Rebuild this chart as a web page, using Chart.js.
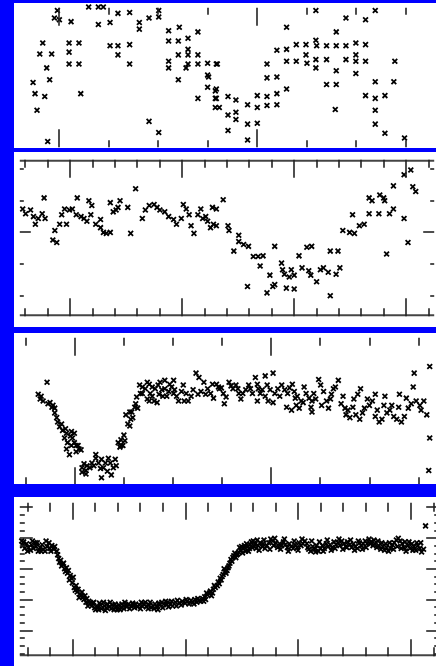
<!DOCTYPE html>
<html>
<head>
<meta charset="utf-8">
<script src="https://cdn.jsdelivr.net/npm/chart.js@4/dist/chart.umd.min.js"></script>
<style>
  html, body { margin: 0; padding: 0; }
  body { width: 436px; height: 666px; background: #0000ff; position: relative; overflow: hidden; }
  .panel { position: absolute; left: 14px; width: 422px; background: #fff; overflow: hidden; }
  .panel canvas { position: absolute; }
</style>
</head>
<body>
<div class="panel" style="top:3px;height:145px"><canvas id="lcA" width="447" height="151" style="left:0;top:-1px"></canvas></div>
<div class="panel" style="top:152px;height:175px"><canvas id="lcB" width="426" height="168" style="left:0;top:2px"></canvas></div>
<div class="panel" style="top:333px;height:151px"><canvas id="lcC" width="444" height="159" style="left:-4px;top:-1px"></canvas></div>
<div class="panel" style="top:497px;height:169px"><canvas id="lcD" width="431" height="165" style="left:0;top:0"></canvas></div>
<script>
// light curve A (top strip)
const tA = [
  -0.010, -0.025, 0.000, 0.059, 0.148, 0.197, 0.222, 0.197, 0.256, 0.296,
  0.355, 0.404, 0.404, 0.453, 0.502, 0.502, -0.084, -0.099, -0.039, -0.064,
  0.049, 0.099, 0.049, 0.049, 0.099, -0.133, -0.049, -0.123, -0.074, -0.113,
  0.108, 0.256, 0.296, 0.296, 0.355, 0.355, 0.453, 0.502, -0.059, 0.552,
  0.606, 0.552, 0.601, 0.650, 0.700, 0.552, 0.552, 0.601, 0.650, 0.650,
  0.650, 0.640, 0.700, 0.700, 0.601, 0.749, 0.798, 0.749, 0.754, 0.749,
  0.700, 0.788, 0.788, 0.788, 1.296, 1.448, 1.547, 1.596, 1.148, 1.399,
  0.793, 1.099, 1.148, 1.197, 1.246, 1.296, 1.300, 1.350, 1.399, 1.148,
  1.197, 1.246, 1.251, 1.296, 1.296, 1.350, 1.448, 1.498, 1.547, 1.448,
  1.498, 1.498, 1.547, 1.498, 1.399, 1.399, 1.350, 1.049, 1.049, 1.099,
  1.148, 0.793, 0.793, 0.808, 0.852, 0.892, 0.951, 1.000, 1.000, 1.049,
  1.049, 1.099, 1.099, 0.852, 0.892, 0.892, 0.951, 1.000, 0.852, 0.951,
  1.394, 1.596, 1.596, 1.547, 1.645, 1.596, 1.596, 1.690, 1.695, 1.645,
  1.744
];
const magA = [
  12.010, 12.037, 12.043, 12.050, 11.997, 11.997, 11.997, 12.060, 12.053, 12.020,
  12.017, 12.053, 12.077, 12.037, 12.010, 12.033, 12.127, 12.167, 12.167, 12.217,
  12.127, 12.127, 12.160, 12.203, 12.203, 12.270, 12.260, 12.310, 12.320, 12.370,
  12.310, 12.137, 12.137, 12.170, 12.133, 12.203, 12.410, 12.450, 12.483, 12.083,
  12.070, 12.120, 12.120, 12.110, 12.087, 12.193, 12.217, 12.170, 12.170, 12.150,
  12.203, 12.217, 12.170, 12.203, 12.260, 12.200, 12.203, 12.243, 12.250, 12.287,
  12.327, 12.300, 12.327, 12.360, 12.010, 12.037, 12.043, 12.010, 12.070, 12.087,
  12.203, 12.153, 12.150, 12.133, 12.133, 12.117, 12.137, 12.137, 12.137, 12.193,
  12.193, 12.170, 12.200, 12.187, 12.217, 12.187, 12.137, 12.127, 12.133, 12.187,
  12.170, 12.193, 12.193, 12.237, 12.227, 12.277, 12.277, 12.203, 12.253, 12.250,
  12.293, 12.293, 12.327, 12.360, 12.320, 12.333, 12.350, 12.317, 12.360, 12.320,
  12.353, 12.310, 12.350, 12.387, 12.377, 12.403, 12.420, 12.417, 12.443, 12.477,
  12.367, 12.267, 12.327, 12.317, 12.317, 12.370, 12.420, 12.267, 12.193, 12.453,
  12.470
];

// light curve B
const tB = [
  -0.424, -0.398, -0.354, -0.328, -0.311, -0.285, -0.250, -0.224, -0.233, -0.137,
  -0.155, -0.120, -0.094, -0.076, -0.050, -0.033, -0.007, 0.019, 0.054, 0.063,
  0.097, 0.123, 0.149, 0.167, 0.193, 0.184, 0.228, 0.271, 0.271, 0.297,
  0.323, 0.358, 0.358, 0.384, 0.410, 0.445, 0.427, 0.514, 0.540, 0.584,
  0.644, 0.671, 0.706, 0.749, 0.775, 0.801, 0.844, 0.879, 0.923, 0.949,
  0.992, 1.010, 1.036, 1.062, 1.079, 1.105, 1.140, 1.166, 1.183, 1.210,
  1.227, 1.253, 1.279, 1.270,
  1.366, 1.305, 1.305, 1.409, 1.418, 1.505, 1.505, 1.548, 1.592, 1.461,
  1.635, 1.678, 1.722, 1.826, 1.696, 1.583, 1.783, 1.826, 1.887, 1.896,
  1.913, 1.974, 1.956, 2.000, 1.930, 2.000, 1.757, 1.809, 2.043, 2.113,
  2.156, 2.070, 2.130, 2.148, 2.200, 2.234, 2.261, 2.304, 2.374, 2.408,
  2.322, 2.391, 2.322, 2.434, 2.495, 2.538, 2.582, 2.625, 2.521, 2.669,
  2.669, 2.695, 2.756, 2.764, 2.799, 2.808, 2.851, 2.886, 2.886, 2.825,
  2.981, 3.016, 2.981, 3.041, 3.059, 3.085
];
const magB = [
  12.426, 12.441, 12.429, 12.450, 12.474, 12.456, 12.441, 12.456, 12.391, 12.494,
  12.524, 12.532, 12.474, 12.444, 12.426, 12.474, 12.429, 12.426, 12.444, 12.391,
  12.450, 12.456, 12.465, 12.400, 12.415, 12.444, 12.474, 12.459, 12.485, 12.500,
  12.503, 12.500, 12.406, 12.435, 12.429, 12.400, 12.421, 12.421, 12.503, 12.362,
  12.456, 12.429, 12.415, 12.412, 12.421, 12.429, 12.435, 12.450, 12.459, 12.474,
  12.456, 12.412, 12.426, 12.444, 12.479, 12.503, 12.444, 12.426, 12.456, 12.450,
  12.465, 12.485, 12.474, 12.421,
  12.397, 12.426, 12.479, 12.479, 12.494, 12.509, 12.529, 12.538, 12.544, 12.559,
  12.576, 12.576, 12.574, 12.544, 12.606, 12.671, 12.635, 12.665, 12.597, 12.618,
  12.632, 12.618, 12.641, 12.635, 12.676, 12.679, 12.691, 12.671, 12.574, 12.547,
  12.544, 12.612, 12.621, 12.635, 12.656, 12.618, 12.612, 12.626, 12.632, 12.612,
  12.559, 12.559, 12.700, 12.494, 12.500, 12.503, 12.479, 12.474, 12.444, 12.391,
  12.441, 12.400, 12.441, 12.382, 12.391, 12.400, 12.441, 12.426, 12.353, 12.568,
  12.456, 12.532, 12.318, 12.303, 12.356, 12.371
];

// light curve C
const tC = [
  -0.141, -0.186, -0.176, -0.161, -0.136, -0.116, -0.102, -0.111, -0.092, -0.087,
  -0.077, -0.062, -0.042, -0.017, -0.002, -0.012, -0.052, -0.037, -0.017, 0.007,
  0.022, -0.042, -0.027, 0.007, 0.032, 0.037, 0.057, 0.062, 0.087, 0.107,
  0.121, 0.136, 0.156, 0.171, 0.181, 0.206, 0.196, 0.131, 0.107, 0.037,
  0.057, 0.136, 0.186, 0.221, 0.235, 0.255, 0.230, 0.245, 0.260, 0.280,
  0.285, 0.305, 0.310, 0.320, 0.280, 0.295, 0.330, 0.344, 0.334, 0.359,
  0.379, 0.394, 0.384, 0.409, 0.429, 0.404, 0.379, 0.369, 0.419, 0.434,
  0.458, 0.483, 0.503, 0.458, 0.478, 0.503, 0.443, 0.468, 0.508, 0.543,
  0.567, 0.528, 0.557, 0.577, 0.602, 0.617, 0.632, 0.657, 0.676, 0.691,
  0.706, 0.731, 0.642, 0.627, 0.721, 0.736, 0.756, 0.761, 0.785, 0.805,
  0.820, 0.835, 0.845, 0.870, 0.885, 0.904, 0.919, 0.929, 0.934, 0.929,
  0.969, 0.954, 0.969, 0.994, 1.009, 0.984, 1.009, 1.033, 1.053, 1.068,
  1.083, 1.107, 1.117, 1.132, 1.152, 1.078, 1.103, 1.127, 1.142, 1.167,
  1.177, 1.192, 1.207, 1.202, 1.207, 1.226, 1.241, 1.251, 1.266, 1.281,
  1.291, 1.306, 1.316, 1.341, 1.326, 1.355, 1.375, 1.380, 1.400, 1.415,
  1.430, 1.450, 1.454, 1.440, 1.474, 1.499, 1.514, 1.529, 1.529, 1.549,
  1.563, 1.578, 1.573, 1.588, 1.603, 1.623, 1.638, 1.648, 1.652, 1.662,
  1.677, 1.697, 1.712, 1.722, 1.737, 1.756, 1.776, 1.791, 1.727, 1.806,
  0.344, 0.369, 0.394, 0.424, 0.448, 0.493, 0.518, 0.552, 0.592, 0.666,
  0.701, 0.746, 0.770, 0.795, 0.830, 0.855, 0.894, 0.944, 0.979, 1.018,
  1.043, 1.093, 1.122, 1.162, 1.216, 1.256, 1.301, 1.365, 1.390, 1.420,
  1.464, 1.489, 1.539, 1.613, 1.687, 1.762,
  -0.171, -0.126, -0.102, -0.067, -0.047, -0.022, -0.002, 0.017, 0.047, 0.077,
  0.097, 0.146, 0.166, 0.211, 0.235, 0.250, 0.270, 0.290, 0.315, 1.806,
  1.801
];
const magC = [
  12.160, 12.203, 12.220, 12.227, 12.237, 12.250, 12.253, 12.243, 12.287, 12.303,
  12.320, 12.333, 12.343, 12.337, 12.343, 12.360, 12.360, 12.377, 12.387, 12.387,
  12.400, 12.400, 12.420, 12.410, 12.403, 12.467, 12.477, 12.460, 12.450, 12.433,
  12.450, 12.437, 12.450, 12.433, 12.450, 12.437, 12.467, 12.470, 12.420, 12.483,
  12.490, 12.503, 12.493, 12.377, 12.367, 12.370, 12.393, 12.387, 12.277, 12.267,
  12.293, 12.250, 12.237, 12.253, 12.317, 12.287, 12.170, 12.177, 12.200, 12.183,
  12.167, 12.177, 12.200, 12.183, 12.203, 12.227, 12.227, 12.220, 12.233, 12.160,
  12.153, 12.167, 12.153, 12.183, 12.193, 12.200, 12.187, 12.210, 12.187, 12.193,
  12.200, 12.227, 12.227, 12.227, 12.187, 12.127, 12.143, 12.160, 12.183, 12.200,
  12.217, 12.177, 12.193, 12.203, 12.167, 12.183, 12.200, 12.237, 12.160, 12.183,
  12.170, 12.200, 12.220, 12.187, 12.170, 12.200, 12.143, 12.167, 12.183, 12.227,
  12.137, 12.187, 12.210, 12.187, 12.127, 12.227, 12.233, 12.183, 12.170, 12.187,
  12.200, 12.167, 12.193, 12.210, 12.227, 12.250, 12.260, 12.243, 12.253, 12.177,
  12.200, 12.217, 12.227, 12.250, 12.267, 12.220, 12.150, 12.170, 12.193, 12.227,
  12.253, 12.203, 12.183, 12.153, 12.177, 12.237, 12.253, 12.277, 12.287, 12.250,
  12.277, 12.293, 12.183, 12.203, 12.253, 12.243, 12.227, 12.203, 12.283, 12.303,
  12.293, 12.210, 12.243, 12.270, 12.260, 12.283, 12.293, 12.250, 12.203, 12.303,
  12.283, 12.253, 12.237, 12.177, 12.227, 12.243, 12.227, 12.277, 12.127, 12.103,
  12.200, 12.160, 12.210, 12.170, 12.210, 12.177, 12.210, 12.170, 12.210, 12.203,
  12.167, 12.180, 12.213, 12.173, 12.183, 12.200, 12.183, 12.200, 12.170, 12.200,
  12.210, 12.180, 12.217, 12.233, 12.200, 12.243, 12.220, 12.210, 12.260, 12.220,
  12.270, 12.220, 12.260, 12.243, 12.217, 12.260,
  12.210, 12.233, 12.270, 12.310, 12.327, 12.353, 12.377, 12.387, 12.453, 12.467,
  12.460, 12.467, 12.480, 12.460, 12.387, 12.350, 12.310, 12.267, 12.213, 12.360,
  12.477
];

// light curve D (bottom strip)
const tD = [
  -0.453, -0.445, -0.427, -0.410, -0.393, -0.375, -0.367, -0.350, -0.332, -0.324,
  -0.306, -0.289, -0.272, -0.263, -0.246, -0.229, -0.211, -0.203, -0.186, -0.168,
  -0.160, -0.142, -0.134, -0.125, -0.117, -0.108, -0.099, -0.091, -0.073, -0.065,
  -0.047, -0.039, -0.022, -0.013, 0.004, 0.013, 0.022, 0.039, 0.047, 0.065,
  0.073, 0.091, 0.099, 0.117, 0.125, 0.142, 0.151, 0.168, 0.177, 0.194,
  0.203, 0.220, 0.229, 0.246, 0.255, 0.272, 0.281, 0.298, 0.306, 0.324,
  0.341, 0.350, 0.367, 0.384, 0.393, 0.410, 0.427, 0.436, 0.453, 0.470,
  0.479, 0.496, 0.514, 0.531, 0.539, 0.557, 0.574, 0.591, 0.608, 0.617,
  0.634, 0.652, 0.669, 0.678, 0.695, 0.712, 0.729, 0.747, 0.764, 0.772,
  0.790, 0.807, 0.824, 0.833, 0.850, 0.868, 0.885, 0.911, 0.928, 0.945,
  0.971, 0.997, 1.014, 1.049, 1.066, 1.083, 1.100, 1.118, 1.135, 1.152,
  1.170, 1.178, 1.195, 1.213, 1.221, 1.239, 1.247, 1.264, 1.282, 1.290,
  1.308, 1.316, 1.334, 1.351, 1.359, 1.377, 1.385, 1.403, 1.411, 1.428,
  1.446, 1.463, 1.472, 1.489, 1.506, 1.515, 1.532, 1.549, 1.567, 1.575,
  1.592, 1.601, 1.618, 1.636, 1.644, 1.662, 1.679, 1.687, 1.705, 1.722,
  1.739, 1.756, 1.774, 1.782, 1.800, 1.817, 1.834, 1.852, 1.869, 1.886,
  1.903, 1.921, 1.938, 1.955, 1.972, 1.990, 2.007, 2.024, 2.041, 2.059,
  2.076, 2.093, 2.110, 2.128, 2.145, 2.162, 2.179, 2.197, 2.214, 2.231,
  2.248, 2.266, 2.283, 2.300, 2.317, 2.335, 2.352, 2.369, 2.386, 2.404,
  2.421, 2.438, 2.456, 2.473, 2.490, 2.507, 2.525, 2.542, 2.559, 2.576,
  2.594, 2.611, 2.628, 2.645, 2.663, 2.680, 2.697, 2.714, 2.732, 2.749,
  2.766, 2.783, 2.801, 2.818, 2.835, 2.852, 2.870, 2.887, 2.904, 2.921,
  2.939, 2.956, 2.973, 2.990, 3.008, 3.025, 3.042, 3.059, 3.077, 3.094,
  3.111, 3.129,
  -0.436, -0.401, -0.358, -0.315, -0.281, -0.237, -0.194,
  -0.082, -0.056, -0.030, -0.004, 0.030, 0.056, 0.082, 0.108, 0.134,
  0.186, 0.237, 0.289, 0.332, 0.375, 0.419, 0.462, 0.505, 0.548, 0.600,
  0.643, 0.686, 0.721, 0.755, 0.798, 0.842, 0.876, 0.919, 0.962, 1.006,
  1.031, 1.075, 1.109,
  1.161, 1.187, 1.230, 1.256, 1.299, 1.325, 1.342, 1.368, 1.394, 1.420,
  1.437, 1.454, 1.480, 1.497, 1.523, 1.541, 1.558, 1.584, 1.610, 1.627,
  1.653, 1.696, 1.748, 1.791, 1.843, 1.877, 1.912, 1.964, 1.998, 2.033,
  2.084, 2.119, 2.153, 2.188, 2.222, 2.257, 2.292, 2.326, 2.361, 2.395,
  2.430, 2.464, 2.499, 2.533, 2.568, 2.602, 2.637, 2.671, 2.706, 2.740,
  2.775, 2.809, 2.844, 2.878, 2.913, 2.947, 2.982, 3.017, 3.051, 3.086
];
const magD = [
  12.009, 12.024, 12.033, 12.018, 12.030, 12.039, 12.021, 12.033, 12.015, 12.027,
  12.042, 12.030, 12.021, 12.036, 12.042, 12.027, 12.015, 12.033, 12.024, 12.036,
  12.027, 12.042, 12.054, 12.066, 12.078, 12.072, 12.090, 12.084, 12.099, 12.108,
  12.114, 12.105, 12.121, 12.130, 12.127, 12.160, 12.169, 12.175, 12.166, 12.181,
  12.187, 12.190, 12.199, 12.208, 12.196, 12.205, 12.214, 12.220, 12.211, 12.226,
  12.232, 12.223, 12.232, 12.217, 12.229, 12.208, 12.220, 12.226, 12.214, 12.223,
  12.229, 12.217, 12.232, 12.223, 12.232, 12.217, 12.226, 12.214, 12.229, 12.217,
  12.223, 12.214, 12.220, 12.211, 12.217, 12.214, 12.223, 12.217, 12.208, 12.220,
  12.214, 12.223, 12.229, 12.217, 12.226, 12.220, 12.214, 12.223, 12.211, 12.217,
  12.208, 12.214, 12.205, 12.217, 12.223, 12.214, 12.220, 12.208, 12.202, 12.211,
  12.205, 12.211, 12.205, 12.202, 12.208, 12.199, 12.208, 12.202, 12.205, 12.196,
  12.190, 12.199, 12.184, 12.178, 12.172, 12.178, 12.166, 12.160, 12.154, 12.142,
  12.130, 12.136, 12.118, 12.108, 12.114, 12.096, 12.090, 12.069, 12.075, 12.057,
  12.063, 12.051, 12.045, 12.039, 12.048, 12.033, 12.042, 12.027, 12.033, 12.021,
  12.030, 12.009, 12.018, 12.006, 12.024, 12.015, 12.027, 12.018, 12.033, 12.024,
  12.015, 12.003, 12.009, 12.024, 12.015, 12.030, 12.018, 12.024, 12.012, 12.021,
  12.030, 12.018, 12.027, 12.033, 12.021, 12.030, 12.015, 12.024, 12.018, 12.009,
  12.018, 12.036, 12.042, 12.027, 12.036, 12.024, 12.042, 12.033, 12.024, 12.033,
  12.018, 12.027, 12.021, 12.030, 12.012, 12.021, 12.015, 12.024, 12.009, 12.018,
  12.027, 12.012, 12.021, 12.030, 12.018, 12.027, 12.033, 12.015, 12.024, 12.018,
  12.009, 12.018, 12.003, 12.012, 12.024, 12.018, 12.030, 12.024, 12.036, 12.027,
  12.039, 12.030, 12.042, 12.033, 12.021, 12.015, 12.006, 12.000, 12.009, 12.018,
  12.030, 12.042, 12.024, 12.033, 12.018, 12.027, 12.039, 12.024, 12.033, 12.045,
  12.036, 11.960,
  12.012, 12.042, 12.009, 12.015, 12.042, 12.009, 12.042,
  12.081, 12.096, 12.136, 12.145, 12.154, 12.193, 12.175, 12.187, 12.220,
  12.208, 12.211, 12.235, 12.208, 12.214, 12.232, 12.208, 12.229, 12.226, 12.229,
  12.208, 12.208, 12.229, 12.232, 12.226, 12.208, 12.205, 12.220, 12.217, 12.199,
  12.214, 12.214, 12.196,
  12.205, 12.178, 12.187, 12.154, 12.148, 12.124, 12.099, 12.105, 12.081, 12.063,
  12.048, 12.054, 12.030, 12.027, 12.024, 12.018, 12.042, 12.012, 12.027, 12.033,
  12.039, 12.006, 12.036, 12.000, 12.036, 12.003, 12.042, 12.009, 12.039, 12.003,
  12.030, 12.009, 12.045, 12.012, 12.042, 12.006, 12.039, 12.033, 12.003, 12.036,
  12.030, 12.006, 12.039, 12.009, 12.036, 12.030, 12.018, 12.006, 12.009, 12.015,
  12.018, 12.015, 12.036, 12.027, 12.033, 12.012, 12.012, 12.039, 12.015, 12.015
];

// tick positions (no labels on these strips)
const phaseMajorWide = [0, 1, 2];
const phaseMinorWide = [-0.25, 0.25, 0.5, 0.75, 1.25, 1.5, 1.75];
const phaseMajorNarrow = [0, 1, 2, 3];
const phaseMinorNarrow = [-0.4, -0.2, 0.2, 0.4, 0.6, 0.8, 1.2, 1.4, 1.6, 1.8, 2.2, 2.4, 2.6, 2.8, 3.2];
const magMajorB = [12.5];
const magMinorB = [12.3, 12.4, 12.6, 12.7];
const magMajorD = [11.9, 12.0, 12.1, 12.2, 12.3];
const magMinorD = [11.925, 11.95, 11.975, 12.025, 12.05, 12.075, 12.125, 12.15, 12.175,
  12.225, 12.25, 12.275, 12.325, 12.35, 12.375];

// inward tick marks + optional frame lines, placed with the chart's own scales
const frameTicks = {
  id: 'frameTicks',
  afterDatasetsDraw(chart, args, o) {
    const ctx = chart.ctx, a = chart.chartArea;
    const sx = chart.scales.x, sy = chart.scales.y;
    const seg = (x1, y1, x2, y2) => { ctx.beginPath(); ctx.moveTo(x1, y1); ctx.lineTo(x2, y2); ctx.stroke(); };
    ctx.save();
    ctx.strokeStyle = '#444';
    ctx.lineWidth = 2;
    (o.frame || []).forEach(side => {
      if (side === 'top') seg(a.left, a.top + 1, a.right, a.top + 1);
      if (side === 'bottom') seg(a.left, a.bottom - 1, a.right, a.bottom - 1);
    });
    ctx.strokeStyle = '#222';
    ctx.lineWidth = 1.6;
    const xt = (vals, len) => vals.forEach(v => {
      const px = Math.round(sx.getPixelForValue(v));
      if (o.xSides.includes('top')) seg(px, a.top, px, a.top + len);
      if (o.xSides.includes('bottom')) seg(px, a.bottom, px, a.bottom - len);
    });
    const yt = (vals, len) => vals.forEach(v => {
      const py = Math.round(sy.getPixelForValue(v));
      if (o.ySides.includes('left')) seg(a.left, py, a.left + len, py);
      if (o.ySides.includes('right')) seg(a.right, py, a.right - len, py);
    });
    xt(o.xMajor, o.xLen[0]);
    xt(o.xMinor, o.xLen[1]);
    if (o.yMajor) {
      yt(o.yMajor, o.yLen[0]);
      yt(o.yMinor, o.yLen[1]);
    }
    ctx.restore();
  }
};

function lightCurve(id, t, mag, xRange, yRange, ticks) {
  new Chart(document.getElementById(id), {
    type: 'scatter',
    data: {
      datasets: [{
        data: t.map((v, i) => ({ x: v, y: mag[i] })),
        pointStyle: 'crossRot',
        pointRadius: 3.4,
        pointBorderWidth: 1.8,
        pointBorderColor: '#000',
        pointBackgroundColor: '#000',
        clip: false
      }]
    },
    options: {
      responsive: false,
      animation: false,
      events: [],
      layout: { padding: 0 },
      plugins: { legend: { display: false }, tooltip: { enabled: false }, frameTicks: ticks },
      scales: {
        x: { type: 'linear', display: false, min: xRange[0], max: xRange[1] },
        y: { type: 'linear', display: false, reverse: true, min: yRange[0], max: yRange[1] }
      }
    },
    plugins: [frameTicks]
  });
}

lightCurve('lcA', tA, magA, [-0.2, 2.0], [12.0, 12.5033], {
  xMajor: phaseMajorWide, xMinor: phaseMinorWide, xLen: [18, 7], xSides: ['top', 'bottom'], ySides: []
});
lightCurve('lcB', tB, magB, [-0.45, 3.25], [12.2706, 12.7647], {
  xMajor: phaseMajorNarrow, xMinor: phaseMinorNarrow, xLen: [18, 8], xSides: ['top', 'bottom'],
  yMajor: magMajorB, yMinor: magMinorB, yLen: [11, 4], ySides: ['left', 'right'],
  frame: ['top', 'bottom']
});
lightCurve('lcC', tC, magC, [-0.3, 1.9], [12.0, 12.53], {
  xMajor: phaseMajorWide, xMinor: phaseMinorWide, xLen: [18, 8], xSides: ['top', 'bottom'], ySides: []
});
lightCurve('lcD', tD, magD, [-0.47, 3.25], [11.8849, 12.3834], {
  xMajor: phaseMajorNarrow, xMinor: phaseMinorNarrow, xLen: [17, 9], xSides: ['top', 'bottom'],
  yMajor: magMajorD, yMinor: magMinorD, yLen: [13, 5], ySides: ['left', 'right'],
  frame: ['bottom']
});
</script>
</body>
</html>
